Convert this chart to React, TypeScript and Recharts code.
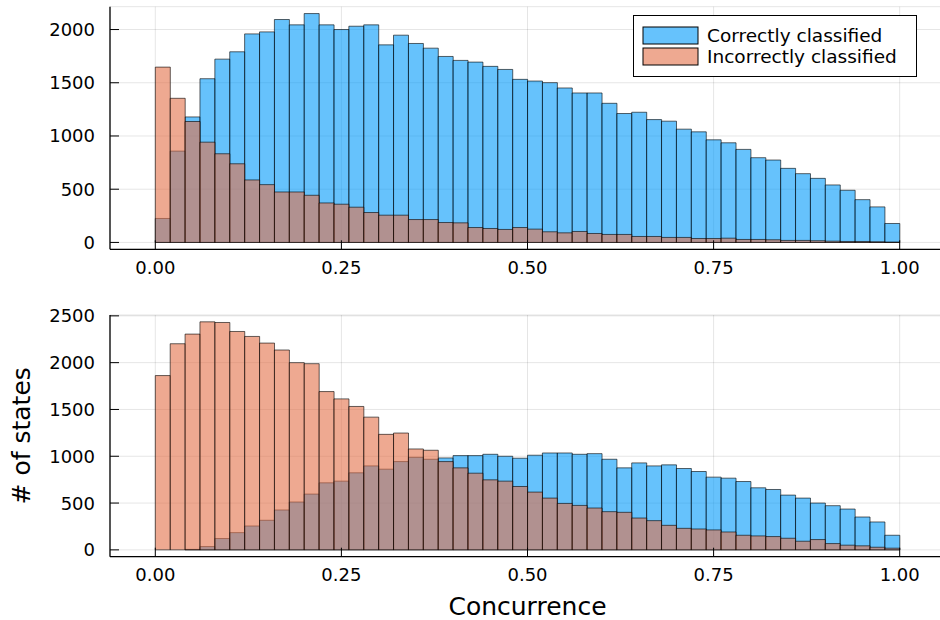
import React from "react";
import {
  ComposedChart,
  Bar,
  XAxis,
  YAxis,
  CartesianGrid,
  Legend,
  Label,
} from "recharts";

// 50 equal bins over [0, 1]
const BIN_WIDTH = 0.02;

const topCorrect = [
  225, 858, 1179, 1538, 1722, 1791, 1959, 1978, 2094, 2044, 2150, 2044, 2000,
  2031, 2044, 1856, 1947, 1869, 1825, 1747, 1710, 1694, 1654, 1625, 1532, 1516,
  1501, 1451, 1404, 1404, 1307, 1211, 1223, 1154, 1139, 1064, 1039, 964, 936,
  874, 796, 774, 696, 646, 602, 540, 490, 402, 334, 178,
];
const topIncorrect = [
  1647, 1354, 1136, 942, 833, 739, 587, 543, 474, 474, 443, 371, 359, 331, 281,
  256, 256, 215, 215, 187, 184, 140, 131, 122, 140, 125, 100, 90, 103, 84, 75,
  75, 56, 56, 47, 47, 37, 37, 40, 28, 28, 25, 19, 19, 16, 12, 9, 9, 6, 3,
];
const bottomCorrect = [
  0, 0, 5, 35, 121, 184, 255, 316, 426, 511, 596, 716, 734, 823, 897, 862, 943,
  989, 968, 982, 1007, 1007, 1021, 1000, 979, 1011, 1035, 1035, 1021, 1028, 968,
  876, 929, 897, 908, 869, 837, 777, 766, 730, 663, 645, 585, 553, 500, 472,
  436, 351, 298, 156,
];
const bottomIncorrect = [
  1862, 2202, 2305, 2436, 2429, 2333, 2280, 2209, 2135, 2000, 1989, 1691, 1613,
  1532, 1418, 1234, 1248, 1078, 1064, 943, 876, 819, 748, 734, 677, 617, 553,
  496, 475, 447, 408, 401, 340, 312, 262, 230, 223, 213, 191, 156, 149, 142,
  124, 92, 110, 67, 50, 43, 28, 18,
];

const xTicks = [0, 0.25, 0.5, 0.75, 1];
const topYTicks = [0, 500, 1000, 1500, 2000];
const bottomYTicks = [0, 500, 1000, 1500, 2000, 2500];

const seriesNames = ["Correctly classified", "Incorrectly classified"];
const seriesColors = ["#009AFA", "#E36F47"];

const FONT = "DejaVu Sans";
const WIDTH = 945;
const AXIS_W = 110;
const PLOT_W = WIDTH - AXIS_W;
const PAD_PX = 45.3;
const XPAD = PAD_PX / (PLOT_W - 2 * PAD_PX);

type Row = { bin: number; mid: number; correct: number; incorrect: number };

const toRows = (correct: number[], incorrect: number[]): Row[] =>
  correct.map((c, i) => ({
    bin: i,
    mid: (i + 0.5) * BIN_WIDTH,
    correct: c,
    incorrect: incorrect[i],
  }));

// ticks point inward, like the GR backend
const XTick = (props: any) => {
  const { x, y, payload } = props;
  return (
    <g>
      <line x1={x} x2={x} y1={y - 12} y2={y - 21} stroke="#000" />
      <text
        x={x}
        y={y}
        dy="0.71em"
        textAnchor="middle"
        fontSize={18}
        fontFamily={FONT}
        fill="#000"
      >
        {Number(payload.value).toFixed(2)}
      </text>
    </g>
  );
};

const YTick = (props: any) => {
  const { x, y, payload } = props;
  return (
    <g>
      <line x1={x + 15} x2={x + 24} y1={y} y2={y} stroke="#000" />
      <text
        x={x}
        y={y}
        dy="0.36em"
        textAnchor="end"
        fontSize={18}
        fontFamily={FONT}
        fill="#000"
      >
        {payload.value}
      </text>
    </g>
  );
};

const LegendBox = () => (
  <svg width={284} height={62} style={{ display: "block" }}>
    <rect x={0.5} y={0.5} width={283} height={61} fill="#fff" stroke="#000" />
    {seriesNames.map((name, i) => (
      <g key={name}>
        <rect
          x={10}
          y={12 + i * 21}
          width={55}
          height={17}
          fill={seriesColors[i]}
          fillOpacity={0.6}
          stroke="#000"
        />
        <text
          x={74}
          y={20.5 + i * 21}
          dy="0.36em"
          fontSize={18.5}
          fontFamily={FONT}
          fill="#000"
        >
          {name}
        </text>
      </g>
    ))}
  </svg>
);

type PanelProps = {
  rows: Row[];
  yTicks: number[];
  height: number;
  marginTop: number;
  axisHeight: number;
  showLegend?: boolean;
  showLabels?: boolean;
};

const Panel = ({
  rows,
  yTicks,
  height,
  marginTop,
  axisHeight,
  showLegend,
  showLabels,
}: PanelProps) => {
  const yMax = Math.max(...rows.map((r) => Math.max(r.correct, r.incorrect)));
  return (
    <ComposedChart
      width={WIDTH}
      height={height}
      data={rows}
      margin={{ top: marginTop, right: 0, bottom: 0, left: 0 }}
      barCategoryGap={0}
      barGap={0}
    >
      <CartesianGrid xAxisId="num" stroke="#000" strokeOpacity={0.1} />
      {/* one hidden band axis per series so the two histograms overlap */}
      <XAxis
        xAxisId="c"
        dataKey="bin"
        type="category"
        hide
        height={0}
        padding={{ left: PAD_PX, right: PAD_PX }}
      />
      <XAxis
        xAxisId="i"
        dataKey="bin"
        type="category"
        hide
        height={0}
        padding={{ left: PAD_PX, right: PAD_PX }}
      />
      <XAxis
        xAxisId="num"
        type="number"
        dataKey="mid"
        domain={[-XPAD, 1 + XPAD]}
        allowDataOverflow
        ticks={xTicks}
        interval={0}
        height={axisHeight}
        tickSize={0}
        tickMargin={12}
        tickLine={false}
        tick={<XTick />}
        axisLine={{ stroke: "#000", strokeWidth: 1.3 }}
      >
        {showLabels && (
          <Label
            content={(p: any) => {
              const vb = p.viewBox || { x: AXIS_W, y: 256.7, width: PLOT_W };
              return (
                <text
                  x={vb.x + vb.width / 2}
                  y={vb.y + 58.5}
                  textAnchor="middle"
                  fontSize={25}
                  fontFamily={FONT}
                  fill="#000"
                >
                  Concurrence
                </text>
              );
            }}
          />
        )}
      </XAxis>
      <YAxis
        type="number"
        width={AXIS_W}
        domain={[-0.03 * yMax, 1.03 * yMax]}
        allowDataOverflow
        ticks={yTicks}
        interval={0}
        tickSize={0}
        tickMargin={15}
        tickLine={false}
        tick={<YTick />}
        axisLine={{ stroke: "#000", strokeWidth: 1.3 }}
      >
        {showLabels && (
          <Label
            content={(p: any) => {
              const vb = p.viewBox || { x: 0, y: 15, height: 241.7 };
              const cy = vb.y + vb.height / 2;
              return (
                <text
                  x={30}
                  y={cy}
                  transform={`rotate(-90 30 ${cy})`}
                  textAnchor="middle"
                  fontSize={25}
                  fontFamily={FONT}
                  fill="#000"
                >
                  # of states
                </text>
              );
            }}
          />
        )}
      </YAxis>
      <Bar
        xAxisId="c"
        dataKey="correct"
        name={seriesNames[0]}
        fill={seriesColors[0]}
        fillOpacity={0.6}
        stroke="#000"
        strokeOpacity={0.6}
        strokeWidth={1}
        isAnimationActive={false}
      />
      <Bar
        xAxisId="i"
        dataKey="incorrect"
        name={seriesNames[1]}
        fill={seriesColors[1]}
        fillOpacity={0.6}
        stroke="#000"
        strokeOpacity={0.6}
        strokeWidth={1}
        isAnimationActive={false}
      />
      {showLegend && (
        <Legend
          layout="horizontal"
          verticalAlign="middle"
          align="center"
          content={() => <LegendBox />}
          wrapperStyle={{ left: 633, top: 15, width: 284, height: 62 }}
        />
      )}
    </ComposedChart>
  );
};

export default function App() {
  return (
    <div
      style={{
        position: "absolute",
        left: 0,
        top: 0,
        width: 940,
        height: 620,
        overflow: "hidden",
        background: "#fff",
      }}
    >
      <div style={{ position: "absolute", left: 0, top: 0 }}>
        <Panel
          rows={toRows(topCorrect, topIncorrect)}
          yTicks={topYTicks}
          height={300}
          marginTop={6.7}
          axisHeight={50.7}
          showLegend
        />
      </div>
      <div style={{ position: "absolute", left: 0, top: 300 }}>
        <Panel
          rows={toRows(bottomCorrect, bottomIncorrect)}
          yTicks={bottomYTicks}
          height={320}
          marginTop={15}
          axisHeight={63.3}
          showLabels
        />
      </div>
    </div>
  );
}
